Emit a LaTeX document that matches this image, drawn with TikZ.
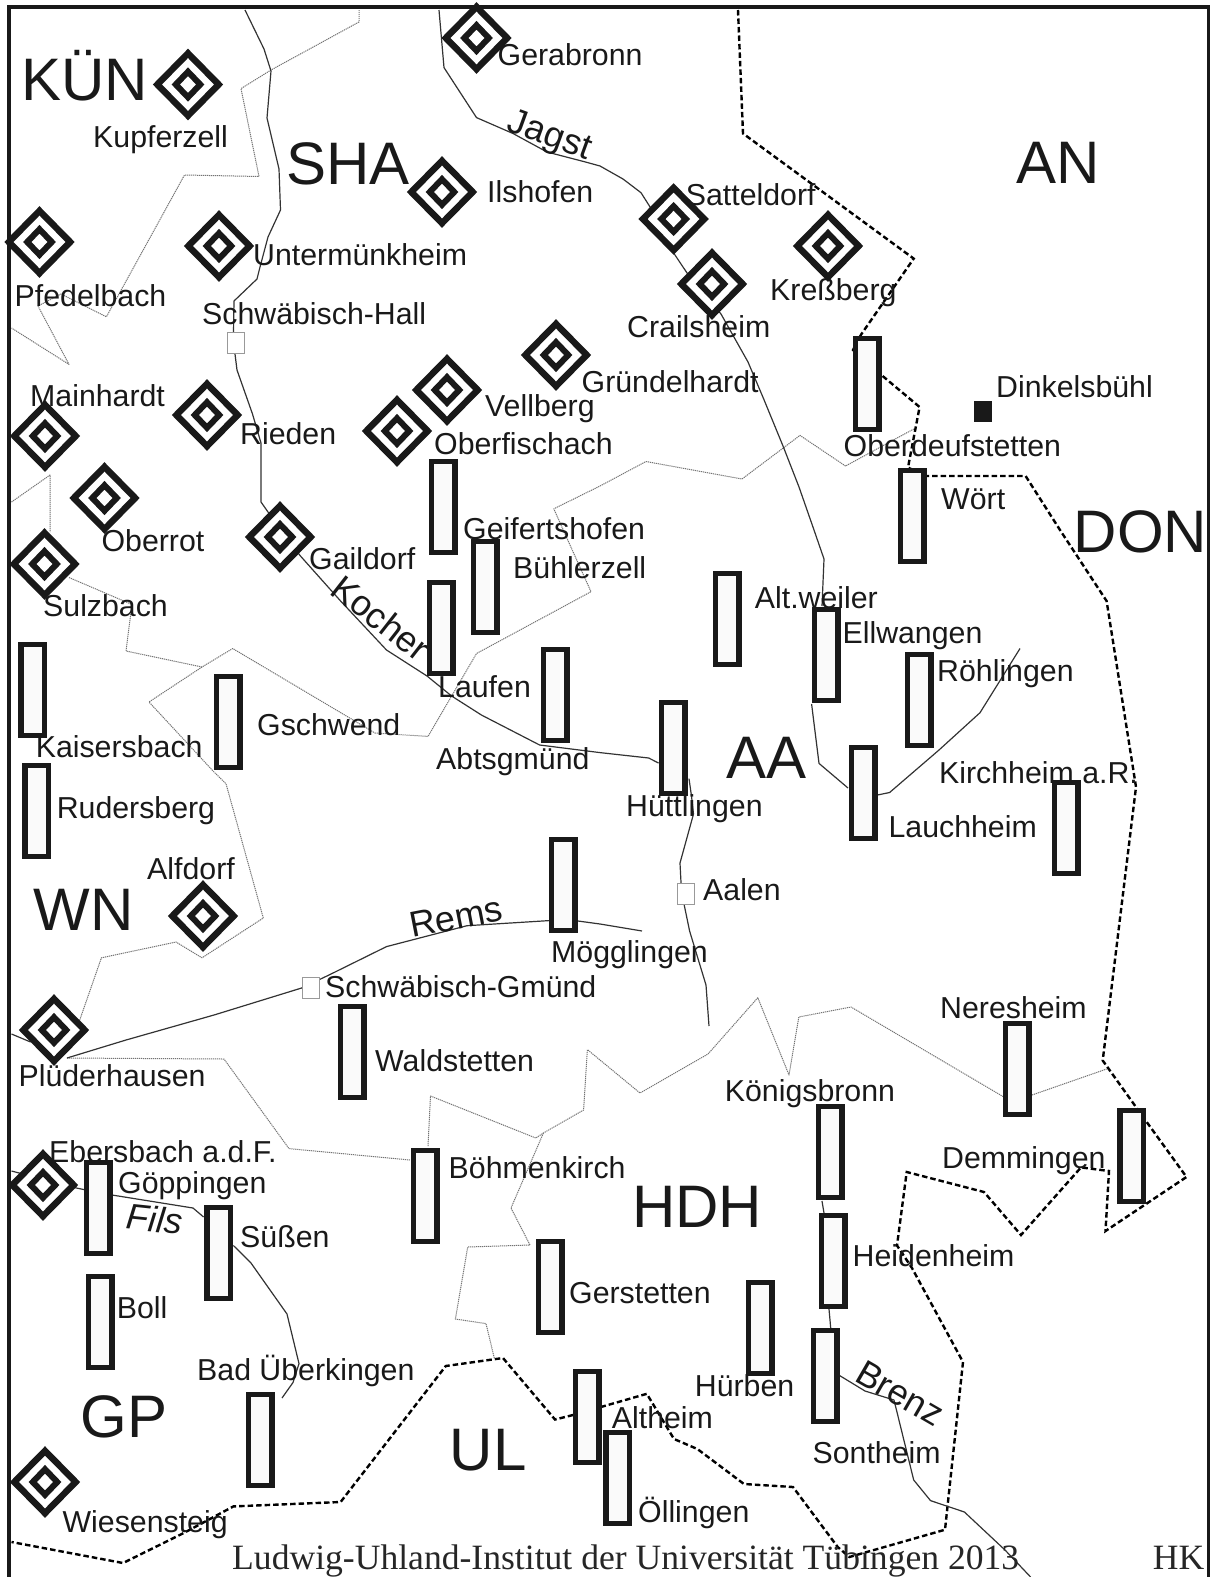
\documentclass[tikz,border=0pt]{standalone}
\usepackage{fontspec}
\setmainfont{Liberation Sans}
\newfontfamily\fserif{Liberation Serif}
\usetikzlibrary{shapes.geometric}
\tikzset{
  x=1pt,y=-1pt,
  river/.style={draw=black!80,line width=1.2pt,line join=round},
  kreis/.style={draw=black!55,line width=1pt,dash pattern=on 1.2pt off 0.8pt,line join=round},
  land/.style={draw=black,line width=2.4pt,dash pattern=on 5.5pt off 3pt},
  frame/.style={draw=black!90,line width=4pt},
  ortrect/.style={draw=black!90,fill=black!2,line width=5.5pt,minimum width=23.5pt,minimum height=91pt,inner sep=0pt,shape=rectangle},
  diaout/.style={shape=diamond,aspect=1,draw=black!90,fill=white,line width=6.5pt,minimum width=64pt,minimum height=65pt,inner sep=0pt},
  diain/.style={shape=diamond,aspect=1,draw=black!90,fill=white,line width=6pt,minimum width=27pt,minimum height=28pt,inner sep=0pt},
  stadt/.style={draw=black!40,fill=white,line width=0.8pt,minimum width=17pt,minimum height=21pt,inner sep=0pt,shape=rectangle},
  lab/.style={anchor=base west,inner sep=0pt,yshift=-1pt,font=\fontsize{30.3}{36}\selectfont,text=black!90},
  big/.style={anchor=base west,inner sep=0pt,font=\fontsize{60}{72}\selectfont,text=black!90},
  riv/.style={anchor=center,inner sep=0pt,font=\fontsize{36}{42}\selectfont,text=black!90},
  foot/.style={anchor=base west,inner sep=0pt,font=\fserif\fontsize{35.6}{42}\selectfont,text=black!85},
}
\newcommand{\Zl}[3]{\node[diaout] (#1) at (#2,#3) {}; \node[diain] (#1i) at (#2,#3) {};}
\newcommand{\Rc}[3]{\node[ortrect] (#1) at (#2,#3) {};}
\begin{document}
\begin{tikzpicture}
\useasboundingbox (0,0) rectangle (1211,1577);
% Kreisgrenzen
\path[kreis] (359,10) -- (359,22) -- (271,70) -- (241,88.6) -- (259,176.5) -- (184.5,175) -- (106.4,316.8) -- (61,294) -- (38,306) -- (69,364.4) -- (11.5,328);
\path[kreis] (11.5,502) -- (50,475) -- (50,532);
\path[kreis] (69,577.5) -- (132,604.5) -- (126,651) -- (202,667) -- (232.7,648.5) -- (375,733) -- (428,736.4) -- (476.5,653.5) -- (591,591.7) -- (566.4,537) -- (553.8,508.8) -- (600,486) -- (646,461.5) -- (742,479) -- (800,435.4) -- (845.5,466) -- (913.7,429);
\path[kreis] (202,667) -- (149,702) -- (214,772) -- (226,783.7) -- (263.3,918) -- (202,957.8) -- (176,942) -- (101.4,957.8) -- (78,1025);
\path[kreis] (67,1058) -- (224,1059) -- (289,1148.6) -- (410,1160);
\path[kreis] (428,1146) -- (430.5,1096) -- (535.8,1138) -- (543.4,1133) -- (583.6,1110) -- (587.4,1049.6) -- (640,1093) -- (708,1054) -- (757.8,997.7) -- (789,1075) -- (798.8,1017) -- (851,1007) -- (1003,1096.5);
\path[kreis] (1032,1095) -- (1106.6,1069);
\path[kreis] (543.4,1133) -- (511,1208) -- (530,1245) -- (467.7,1247) -- (455.4,1319) -- (486,1323.6) -- (494.4,1358.5);
% Landesgrenze
\path[land] (738,10) -- (743,133.5) -- (913.7,258.6) -- (861,334.7) -- (853,350) -- (881.4,375) -- (919.6,407) -- (908,467.5) -- (925.4,476) -- (1025.6,476) -- (1060,530) -- (1106.6,601) -- (1136,787) -- (1102.7,1060.5) -- (1145.6,1120.5) -- (1186.5,1177) -- (1105.5,1231) -- (1109,1171) -- (1081,1167.4) -- (1021,1235) -- (984,1192) -- (906.7,1172) -- (897,1245.5) -- (911.8,1267.7) -- (963,1362) -- (945,1529.7) -- (849.4,1557) -- (837.7,1547) -- (793,1487) -- (744,1484) -- (697.4,1449) -- (674,1439) -- (646.8,1393.8) -- (573,1415) -- (555,1419.5) -- (503,1358) -- (445.8,1366) -- (340.6,1502) -- (233.4,1506.4) -- (183.7,1533) -- (123,1563) -- (11.5,1542);
% Fluesse
\path[river] (245,10) -- (264,49) -- (271,71) -- (267,118) -- (279,169) -- (280.5,210) -- (268,237) -- (260,267) -- (257,279) -- (234,301) -- (233.5,333) -- (235,354) -- (237,370) -- (252.5,414) -- (261,443) -- (261,502) -- (268,512) -- (300,555.5) -- (340.6,601) -- (386.5,650) -- (427,676) -- (451.6,696) -- (481.4,715) -- (539.6,745) -- (600,752.6) -- (648.7,758) -- (658.5,763);
\path[river] (689,778.6) -- (691.6,797) -- (693.5,814) -- (680,863) -- (681,882.5) -- (684,904) -- (689.6,931) -- (706,985) -- (709,1026);
\path[river] (439,10) -- (444,67.6) -- (476.5,117.6) -- (513,133.5) -- (547,152) -- (585.5,162) -- (600,166) -- (623,179) -- (641,192.7) -- (650.7,208) -- (674,253.5) -- (687.7,274) -- (721,314) -- (748,362) -- (763.7,399) -- (783,446) -- (799,487) -- (814,530) -- (824,559) -- (822,606);
\path[river] (811.6,704) -- (819,763.4) -- (848,788);
\path[river] (877.5,795) -- (889.6,792.5) -- (939,750) -- (980,712.7) -- (1020,648.5);
\path[river] (67,1058) -- (126,1040) -- (214,1015) -- (301.6,988) -- (329,975) -- (386.5,946.6) -- (467,925.7) -- (549,920.6) -- (578,921) -- (600,924) -- (642,931);
\path[river] (11.5,1034) -- (30.6,1042);
\path[river] (11.5,1171) -- (76.5,1188) -- (86,1190) -- (112,1195) -- (193,1208) -- (203.6,1217);
\path[river] (233.4,1245.5) -- (250.7,1262.6) -- (287,1314) -- (299,1363.6) -- (293,1382.5) -- (282,1398);
\path[river] (822,1201) -- (824,1213);
\path[river] (829,1309) -- (830.7,1328);
\path[river] (839.7,1375.6) -- (865,1391) -- (894,1400) -- (913.7,1480) -- (930.5,1500.6) -- (964.4,1512) -- (1005,1550) -- (1030.6,1577);
% Rahmen
\draw[frame] (9,7) -- (1208,7);
\draw[frame] (9,5) -- (9,1577);
\draw[frame,line width=3pt] (1208,5) -- (1208,1577);
% Rechtecke
\Rc{rGeif}{443}{507}
\Rc{rBuehl}{485}{587}
\Rc{rLauf}{441}{628}
\Rc{rAbts}{555}{695}
\Rc{rOberd}{867}{384}
\Rc{rWoert}{912}{516}
\Rc{rAltw}{727}{619}
\Rc{rEllw}{826}{655}
\Rc{rRoehl}{919}{700}
\Rc{rHuett}{673}{748}
\Rc{rLauch}{863}{793}
\Rc{rKirch}{1066}{828}
\Rc{rMoegg}{563}{885}
\Rc{rNeres}{1017}{1069}
\Rc{rDemm}{1131.6}{1156}
\Rc{rKoen}{830}{1152}
\Rc{rHeid}{833}{1261}
\Rc{rSont}{825}{1376}
\Rc{rHuerb}{760}{1328}
\Rc{rOell}{617.5}{1478}
\Rc{rAlth}{587}{1417}
\Rc{rGerst}{550}{1287}
\Rc{rBoehm}{425}{1196}
\Rc{rGoepp}{98.4}{1208}
\Rc{rSuess}{218.5}{1253}
\Rc{rBoll}{100}{1322}
\Rc{rBad}{260}{1440}
\Rc{rWald}{352}{1052}
\Rc{rGschw}{228}{722}
\Rc{rKais}{32.5}{690}
\Rc{rRud}{36.5}{811}
% Rauten
\Zl{dGera}{476.5}{38}
\Zl{dKupf}{188}{84.5}
\Zl{dIlsh}{442}{192}
\Zl{dPfed}{39.5}{242}
\Zl{dUnter}{219}{246}
\Zl{dGruend}{556}{355}
\Zl{dVell}{447}{390}
\Zl{dOberf}{397}{431}
\Zl{dRied}{207}{415}
\Zl{dMainh}{45}{436}
\Zl{dOberr}{104.5}{498}
\Zl{dGaild}{280}{537}
\Zl{dSulz}{44.5}{564}
\Zl{dAlfd}{203}{916}
\Zl{dPlued}{54}{1030}
\Zl{dEbers}{43}{1185}
\Zl{dWies}{45}{1482}
\Zl{dSatt}{673.6}{219}
\Zl{dCrails}{712}{284}
\Zl{dKress}{828}{246}
% Staedte
\node[stadt] (sHall) at (236,343) {};
\node[stadt] (sAalen) at (686,893.5) {};
\node[stadt] (sGmuend) at (310.5,987.5) {};
\node[shape=rectangle,fill=black!90,minimum width=17.5pt,minimum height=21pt,inner sep=0pt] (sDinkel) at (983,411.5) {};
% Grosse Beschriftung
\node[big] (bKuen) at (21,100.7) {KÜN};
\node[big] (bSha) at (286,184) {SHA};
\node[big] (bAn) at (1016,183) {AN};
\node[big] (bDon) at (1073.5,552) {DON};
\node[big] (bAa) at (726.6,778.6) {AA};
\node[big] (bWn) at (33.7,930) {WN};
\node[big] (bHdh) at (632,1227.7) {HDH};
\node[big] (bGp) at (80.4,1437) {GP};
\node[big] (bUl) at (449.7,1470) {UL};
% Fluss-Namen
\node[riv,rotate=-20] (fJagst) at (549,137) {Jagst};
\node[riv,rotate=-38] (fKocher) at (381,618) {Kocher};
\node[riv,rotate=11] (fRems) at (456,917) {Rems};
\node[riv,rotate=-6,font=\itshape\fontsize{36}{42}\selectfont] (fFils) at (155,1219) {Fils};
\node[riv,rotate=-30] (fBrenz) at (900,1393) {Brenz};
% Orte
\node[lab] (tGera) at (497.5,64) {Gerabronn};
\node[lab] (tKupf) at (93,146) {Kupferzell};
\node[lab] (tIlsh) at (487,201) {Ilshofen};
\node[lab] (tUnter) at (253,264.4) {Untermünkheim};
\node[lab] (tPfed) at (14.5,305) {Pfedelbach};
\node[lab] (tHall) at (202,323) {Schwäbisch-Hall};
\node[lab] (tMainh) at (30,405) {Mainhardt};
\node[lab] (tRied) at (240,443.5) {Rieden};
\node[lab] (tVell) at (485,415) {Vellberg};
\node[lab] (tOberf) at (434,453) {Oberfischach};
\node[lab] (tGruend) at (581.5,391) {Gründelhardt};
\node[lab] (tSatt) at (685.7,204) {Satteldorf};
\node[lab] (tKress) at (770,299) {Kreßberg};
\node[lab] (tCrails) at (627,336) {Crailsheim};
\node[lab] (tDinkel) at (996,396) {Dinkelsbühl};
\node[lab] (tOberd) at (843.5,455.7) {Oberdeufstetten};
\node[lab] (tWoert) at (941,508) {Wört};
\node[lab] (tOberr) at (101.4,550) {Oberrot};
\node[lab] (tGaild) at (309,568) {Gaildorf};
\node[lab] (tGeif) at (463,538.6) {Geifertshofen};
\node[lab] (tBuehl) at (513,577.5) {Bühlerzell};
\node[lab] (tSulz) at (43,615) {Sulzbach};
\node[lab] (tLauf) at (438,696) {Laufen};
\node[lab] (tKais) at (35.6,756) {Kaisersbach};
\node[lab] (tGschw) at (257,734.7) {Gschwend};
\node[lab] (tAbts) at (436,768) {Abtsgmünd};
\node[lab] (tRud) at (56.6,817.5) {Rudersberg};
\node[lab] (tAlfd) at (147,878) {Alfdorf};
\node[lab] (tGmuend) at (325,996) {Schwäbisch-Gmünd};
\node[lab] (tMoegg) at (551,961) {Mögglingen};
\node[lab] (tWald) at (375,1070) {Waldstetten};
\node[lab] (tAltw) at (754.7,607) {Alt.weiler};
\node[lab] (tEllw) at (842.4,642.4) {Ellwangen};
\node[lab] (tRoehl) at (937,680.6) {Röhlingen};
\node[lab] (tHuett) at (626,815) {Hüttlingen};
\node[lab] (tKirch) at (939,782) {Kirchheim a.R.};
\node[lab] (tLauch) at (888.4,836) {Lauchheim};
\node[lab] (tAalen) at (703,899) {Aalen};
\node[lab] (tNeres) at (940,1017.6) {Neresheim};
\node[lab] (tPlued) at (18.4,1085) {Plüderhausen};
\node[lab] (tEbers) at (49,1161.6) {Ebersbach a.d.F.};
\node[lab] (tGoepp) at (118,1192) {Göppingen};
\node[lab] (tSuess) at (240,1246) {Süßen};
\node[lab] (tBoehm) at (448.5,1177.7) {Böhmenkirch};
\node[lab] (tKoen) at (724.7,1100.6) {Königsbronn};
\node[lab] (tDemm) at (942,1167) {Demmingen};
\node[lab] (tHeid) at (852.5,1265) {Heidenheim};
\node[lab] (tGerst) at (569,1302) {Gerstetten};
\node[lab] (tBoll) at (116.7,1317) {Boll};
\node[lab] (tBad) at (197,1379) {Bad Überkingen};
\node[lab] (tHuerb) at (694.7,1395.5) {Hürben};
\node[lab] (tAlth) at (611.7,1427) {Altheim};
\node[lab] (tSont) at (812.4,1462) {Sontheim};
\node[lab] (tOell) at (638,1521) {Öllingen};
\node[lab] (tWies) at (62.4,1531.4) {Wiesensteig};
% Fusszeile
\node[foot] (tInst) at (232,1569) {Ludwig-Uhland-Institut der Universität Tübingen 2013};
\node[foot] (tHK) at (1152.6,1569) {HK};
\end{tikzpicture}
\end{document}
